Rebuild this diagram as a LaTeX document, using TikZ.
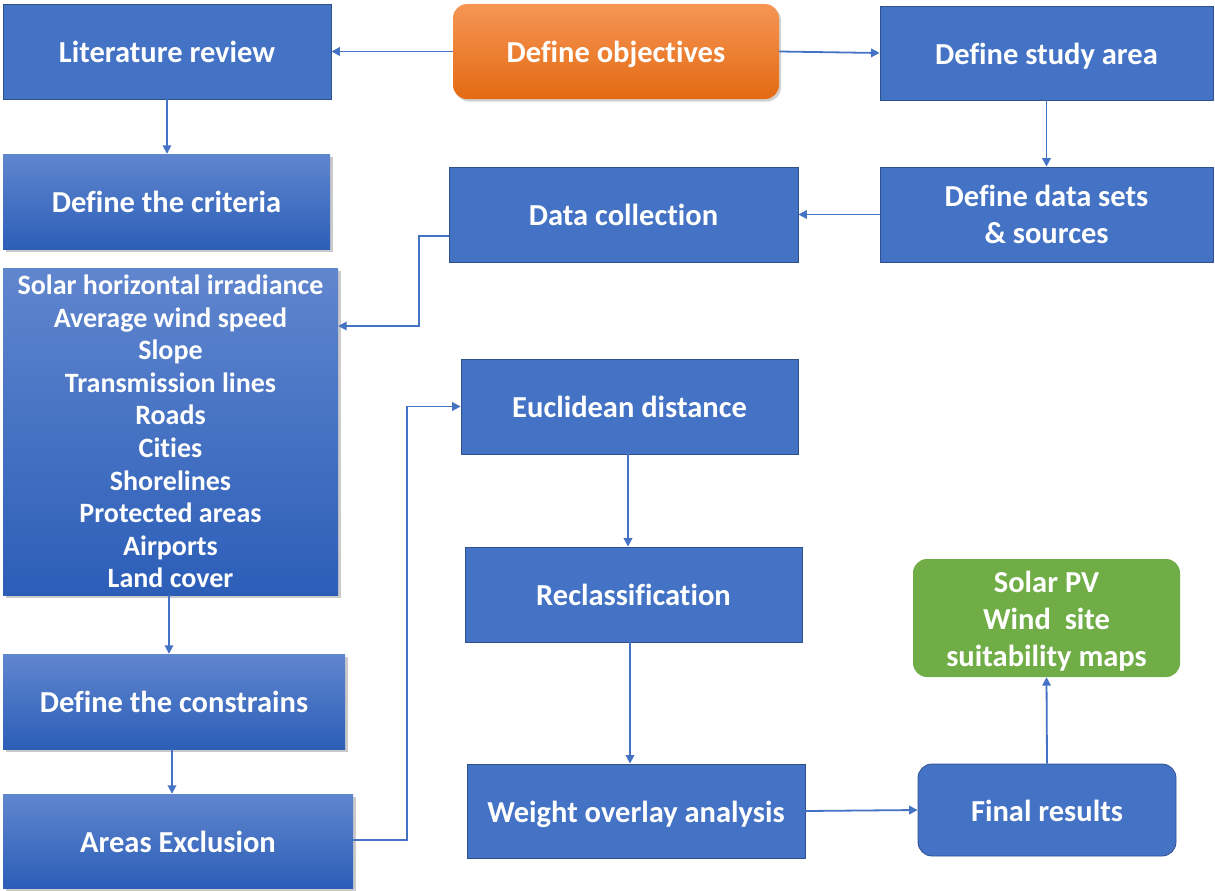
\documentclass[tikz,border=0pt]{standalone}
\usepackage{fontspec}
\setmainfont{Carlito}[Ligatures=NoCommon]
\usetikzlibrary{shadows,arrows.meta}
\definecolor{blu}{RGB}{68,114,196}
\definecolor{bluedge}{RGB}{47,82,143}
\definecolor{blutop}{RGB}{96,134,206}
\definecolor{blubot}{RGB}{44,94,184}
\definecolor{orgtop}{RGB}{245,150,85}
\definecolor{orgbot}{RGB}{228,106,18}
\definecolor{grn}{RGB}{112,173,71}
\tikzset{
  box/.style={rectangle, inner sep=0pt, text=white, align=center,
    font=\fontsize{30.5}{37}\selectfont\bfseries},
  oneline/.style={text height=26pt, text depth=4pt},
  plainbox/.style={box, fill=blu, draw=bluedge, line width=0.8pt},
  gradbox/.style={box, top color=blutop, bottom color=blubot,
    drop shadow={shadow xshift=2.5pt, shadow yshift=-2.5pt, opacity=0.35, fill=black!60}},
  roundblue/.style={box, fill=blu, draw=bluedge, line width=0.8pt, rounded corners=14pt},
  orangebox/.style={box, top color=orgtop, bottom color=orgbot, rounded corners=14pt,
    drop shadow={shadow xshift=2pt, shadow yshift=-2.5pt, opacity=0.3, fill=black!60}},
  greenbox/.style={box, fill=grn, rounded corners=14pt},
  conn/.style={draw=blu, line width=1.8pt, -{Triangle[length=8.5pt,width=8.5pt]}},
}
\begin{document}
\begin{tikzpicture}[x=1pt,y=-1pt]
\useasboundingbox (0,0) rectangle (1215,891);
\node[plainbox, oneline, minimum width=328, minimum height=95] (lit) at (167,51.5) {Literature review};
\node[orangebox, oneline, minimum width=326, minimum height=95] (obj) at (616,51.5) {Define objectives};
\node[plainbox, oneline, minimum width=333, minimum height=94] (area) at (1046.5,53) {Define study area};
\node[gradbox, oneline, minimum width=327, minimum height=95] (crit) at (166.5,201.5) {Define the criteria};
\node[plainbox, oneline, minimum width=349, minimum height=95] (coll) at (623.5,214.5) {Data collection};
\node[plainbox, minimum width=333, minimum height=95] (sets) at (1046.5,214.5) {Define data sets\\\& sources};
\node[gradbox, minimum width=335, minimum height=327, font=\fontsize{28}{32.6}\selectfont\bfseries] (list) at (170.5,431.5)
  {Solar horizontal irradiance\\Average wind speed\\Slope\\Transmission lines\\Roads\\Cities\\Shorelines\\Protected areas\\Airports\\Land cover};
\node[plainbox, oneline, minimum width=337, minimum height=95] (eucl) at (629.5,406.5) {Euclidean distance};
\node[plainbox, oneline, minimum width=337, minimum height=95] (recl) at (633.5,594.5) {Reclassification};
\node[plainbox, oneline, minimum width=338, minimum height=94] (wov) at (636,811) {Weight overlay analysis};
\node[greenbox, minimum width=267, minimum height=118] (maps) at (1046.5,618) {};
\node[box, anchor=center] (mapstext) at (1046.5,621) {Solar PV\\Wind~~site\\suitability maps};
\node[roundblue, oneline, minimum width=258, minimum height=92] (fin) at (1047,810) {Final results};
\node[gradbox, oneline, minimum width=342, minimum height=95] (cons) at (174,701.5) {Define the constrains};
\node[gradbox, oneline, minimum width=350, minimum height=94] (excl) at (178,841) {Areas Exclusion};

\coordinate (c1) at (419,236);
\coordinate (c2) at (407,840);
\draw[conn] (obj.west) -- (lit.east);
\draw[conn] (obj.east) -- (area.west);
\draw[conn] (area.south) -- (sets.north);
\draw[conn] (sets.west) -- (sets.west -| coll.east);
\draw[conn] (coll.west |- c1) -- (c1) -- (c1 |- 0,326) -- (list.east |- 0,326);
\draw[conn] (lit.south) -- (lit.south |- crit.north);
\draw[conn] (list.south -| 169,0) -- (cons.north -| 169,0);
\draw[conn] (cons.south -| 172,0) -- (excl.north -| 172,0);
\draw[conn] (excl.east |- c2) -- (c2) -- (c2 |- eucl.west) -- (eucl.west);
\draw[conn] (eucl.south -| 628,0) -- (recl.north -| 628,0);
\draw[conn] (recl.south -| 630,0) -- (wov.north -| 630,0);
\draw[conn] (wov.east) -- (fin.west);
\draw[conn] (fin.north) -- (maps.south);
\end{tikzpicture}
\end{document}
